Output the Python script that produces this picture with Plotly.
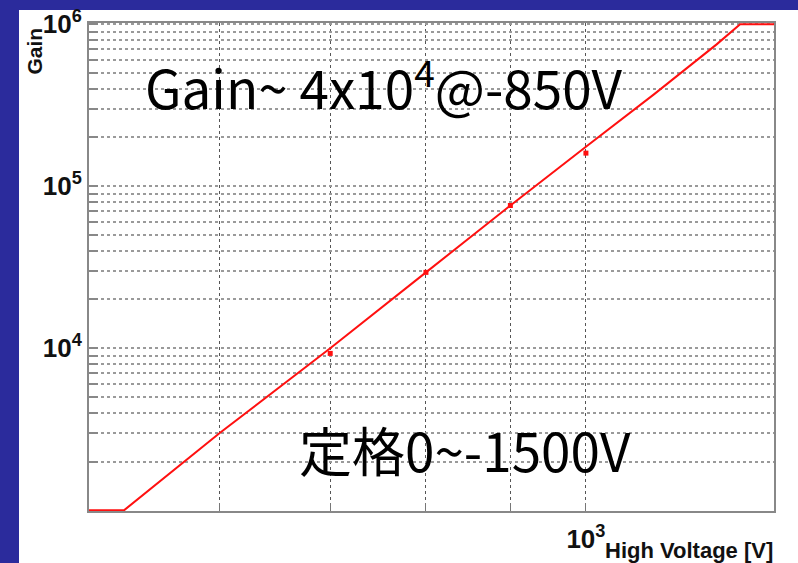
import math
import plotly.graph_objects as go

# Gain curve of the photomultiplier vs. applied high voltage (absolute value)
hv_curve = [500, 525, 600, 700, 800, 900, 1000, 1100, 1200, 1240, 1300]
gain_curve = [1.0e3, 1.0e3, 3.0e3, 1.0e4, 2.94e4, 7.6e4, 1.75e5, 3.7e5, 7.5e5, 1.0e6, 1.0e6]

# Measured points
hv_meas = [700, 800, 900, 1000]
gain_meas = [9.3e3, 2.94e4, 7.6e4, 1.6e5]

# Axis tick / grid positions
x_grid = [600, 700, 800, 900, 1000]
x_text = ["", "", "", "", "<b>10<sup>3</sup></b>"]
y_grid = [m * 10 ** e for e in (3, 4, 5) for m in range(1, 10)][1:] + [1e6]
y_labelled = [1e4, 1e5, 1e6]
y_text = ["<b>10<sup>%d</sup></b>" % round(math.log10(v)) if v in y_labelled else ""
          for v in y_grid]

BLUE = "#2b2b9c"
L, R, T, B = 89, 24, 23, 52
W, H = 798, 563
pw, ph = W - L - R, H - T - B


def px(x):
    return (x - L) / pw


def py(y):
    return (H - B - y) / ph


fig = go.Figure()

fig.add_trace(go.Scatter(
    x=hv_curve, y=gain_curve, mode="lines",
    line=dict(color="#ff1010", width=2), hoverinfo="skip", showlegend=False,
))
fig.add_trace(go.Scatter(
    x=hv_meas, y=gain_meas, mode="markers",
    marker=dict(color="#ff1010", size=5, symbol="square"),
    hoverinfo="skip", showlegend=False,
))

# white slide panel over the blue background
fig.add_shape(type="rect", xref="paper", yref="paper",
              x0=px(19), x1=px(W + 5), y0=py(H + 5), y1=py(10),
              fillcolor="white", line=dict(width=0), layer="below")

fig.add_annotation(xref="paper", yref="paper", x=px(143), y=py(84),
                   xanchor="left", yanchor="middle", showarrow=False,
                   text="Gain~ 4x10<sup>4</sup>@-850V",
                   font=dict(family="Noto Sans CJK JP", size=53, color="black"))
fig.add_annotation(xref="paper", yref="paper", x=px(297), y=py(449),
                   xanchor="left", yanchor="middle", showarrow=False,
                   text="定格0~-1500V",
                   font=dict(family="Noto Sans CJK JP", size=53, color="black"))
fig.add_annotation(xref="paper", yref="paper", x=px(775), y=py(550),
                   xanchor="right", yanchor="middle", showarrow=False,
                   text="<b>High Voltage [V]</b>",
                   font=dict(family="Liberation Sans", size=22, color="#111"))
fig.add_annotation(xref="paper", yref="paper", x=px(34), y=py(26),
                   xanchor="center", yanchor="top", showarrow=False,
                   textangle=-90, text="<b>Gain</b>",
                   font=dict(family="Liberation Sans", size=21, color="#111"))

fig.update_xaxes(
    type="log", range=[2.69897, 3.11394], automargin=False,
    tickvals=x_grid, ticktext=x_text, ticklabelstandoff=4,
    showgrid=True, gridcolor="#555", griddash="dot", gridwidth=1,
    ticks="inside", ticklen=8, tickcolor="#777", tickwidth=1,
    showline=True, linecolor="#888", linewidth=2, mirror=True,
    tickfont=dict(family="Liberation Sans", size=26, color="#111"),
    zeroline=False,
)
fig.update_yaxes(
    type="log", range=[2.996, 6.007], automargin=False,
    tickvals=y_grid, ticktext=y_text,
    showgrid=True, gridcolor="#9a9a9a", griddash="dot", gridwidth=1.5,
    ticks="inside", ticklen=9, tickcolor="#888", tickwidth=2,
    showline=True, linecolor="#888", linewidth=2, mirror=True,
    tickfont=dict(family="Liberation Sans", size=26, color="#111"),
    zeroline=False,
)

fig.update_layout(
    width=W, height=H,
    margin=dict(l=L, r=R, t=T, b=B),
    paper_bgcolor=BLUE, plot_bgcolor="white",
    showlegend=False,
)

fig.write_html("out.html")
